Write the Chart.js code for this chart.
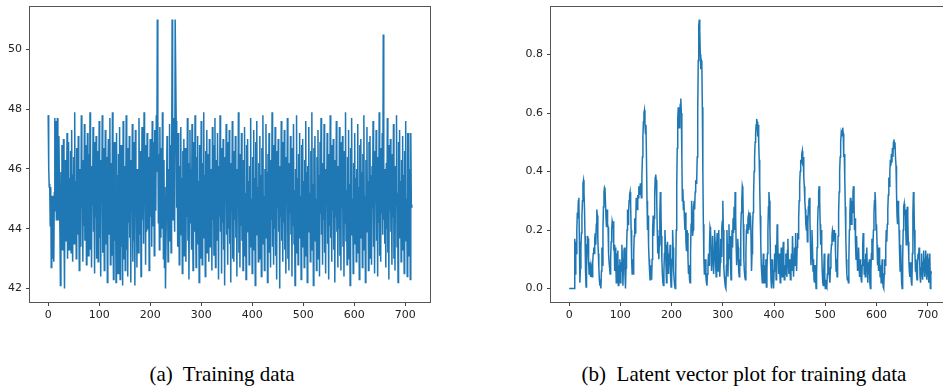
<!DOCTYPE html>
<html lang="en">
<head>
<meta charset="utf-8" />
<title>Training data / Latent vector plot</title>
<script src="https://cdn.jsdelivr.net/npm/chart.js"></script>
<style>
    html, body { margin: 0; padding: 0; background: #fff; width: 943px; height: 388px; overflow: hidden; }
    body { position: relative; }
    canvas { position: absolute; top: 0; }
    #trainingChart { left: 0; }
    #latentChart { left: 520px; }
    .caption {
        position: absolute;
        top: 362px;
        transform: translateX(-50%);
        font-family: "Liberation Serif", "Times New Roman", serif;
        font-size: 21px;
        line-height: 24px;
        color: #000;
        white-space: pre;
    }
</style>
</head>
<body>
<canvas id="trainingChart" width="440" height="330"></canvas>
<canvas id="latentChart" width="430" height="330"></canvas>
<div class="caption" style="left:222px">(a)  Training data</div>
<div class="caption" style="left:744px">(b)  Latent vector plot for training data</div>

<script>
// (a) Training data - one value per time step
var trainingValues = [
    47.8,46.1,45.4,45.5,44.1,45.4,42.7,44.3,45.1,43.0,44.9,42.9,45.2,47.7,44.6,47.6,44.3,45.0,47.7,46.2,
    44.3,47.1,45.5,43.9,42.1,45.9,44.4,46.8,43.3,45.2,47.0,44.1,42.0,45.8,46.3,43.6,44.9,47.2,43.0,45.6,
    46.9,43.3,45.7,44.0,46.6,43.2,47.3,44.6,42.9,45.8,46.4,43.5,47.9,44.2,45.6,43.0,46.7,45.1,43.8,47.1,
    44.5,42.6,46.0,45.2,43.4,47.8,44.7,45.9,42.9,46.3,44.1,47.5,43.6,45.0,46.8,42.8,44.9,47.2,45.4,43.1,
    46.5,44.0,47.9,43.3,45.7,42.7,46.1,44.8,47.4,43.9,45.3,42.5,46.9,44.4,47.1,43.0,45.8,46.6,42.9,44.7,
    47.6,43.7,45.5,42.4,46.3,44.9,47.8,43.2,45.1,46.7,42.6,44.3,47.3,45.0,43.5,46.4,42.2,45.9,47.0,43.8,
    45.2,47.7,42.8,44.6,46.2,43.1,47.9,44.4,42.3,45.7,46.9,43.6,45.3,42.2,47.2,44.0,45.8,42.5,46.5,43.9,
    47.4,42.3,45.0,46.8,43.4,44.7,42.1,47.6,45.5,43.0,46.1,42.6,44.8,47.8,43.3,45.9,42.4,46.7,44.2,47.1,
    43.7,45.4,42.2,46.3,44.6,47.5,42.9,45.1,43.6,46.9,42.1,47.3,44.5,45.8,42.7,46.0,44.9,43.2,47.7,45.3,
    43.8,46.6,42.4,45.0,47.4,44.3,46.1,43.5,47.9,44.8,45.6,42.8,46.8,43.9,47.2,45.2,44.0,46.4,42.6,45.7,
    47.0,44.4,46.2,43.4,47.6,45.5,44.1,46.9,43.1,47.3,45.0,44.6,47.8,45.9,51.0,47.7,44.2,46.5,43.3,47.4,
    45.1,43.7,46.7,44.0,47.9,45.6,43.0,46.3,42.7,45.4,42.0,42.0,44.9,47.1,45.8,42.9,46.0,43.6,47.5,44.5,
    46.8,43.2,45.2,51.0,46.9,44.3,47.7,45.0,43.9,51.0,51.0,47.6,44.7,46.4,43.4,47.2,45.5,42.8,46.1,44.1,
    47.4,43.8,45.7,42.5,46.6,44.8,47.0,43.1,45.3,46.7,42.9,45.9,44.4,47.7,43.6,46.2,42.3,45.0,47.3,44.2,
    46.0,43.3,47.5,45.4,42.6,46.9,44.6,43.9,47.8,45.1,42.7,46.4,44.0,47.1,43.5,45.6,42.2,46.8,44.9,43.0,
    47.6,45.3,42.8,46.2,44.5,47.9,43.7,45.8,42.4,46.6,44.1,47.3,43.2,45.0,46.5,42.9,47.0,44.7,43.4,46.0,
    45.5,42.6,47.4,44.3,46.8,43.1,45.9,47.7,42.7,44.8,46.3,43.6,47.2,45.2,42.3,46.1,44.4,47.8,43.9,45.6,
    42.5,46.7,44.2,47.0,43.3,45.4,42.1,46.4,44.9,47.5,43.8,45.1,42.8,46.9,44.0,47.3,43.5,45.7,42.2,46.2,
    44.6,47.6,43.0,45.3,42.9,46.6,44.3,47.1,43.7,45.8,42.4,46.0,44.8,47.9,43.2,45.5,42.7,46.5,44.1,47.2,
    43.6,45.9,42.6,46.3,44.7,47.4,43.1,45.2,42.3,46.8,44.4,47.0,43.9,45.6,42.8,46.1,44.0,47.7,43.4,45.0,
    42.5,46.4,44.9,47.3,43.3,45.7,42.1,46.9,44.2,47.6,43.8,45.4,42.9,46.2,44.6,47.1,43.0,45.8,42.4,46.7,
    44.5,47.8,43.5,45.1,42.6,46.0,44.1,47.5,43.7,45.9,42.2,46.5,44.8,47.2,43.2,45.3,42.7,46.3,44.3,47.9,
    43.4,45.6,42.8,46.8,44.0,47.4,43.1,45.0,42.3,46.6,44.7,47.0,43.9,45.5,42.0,46.1,44.4,47.6,43.6,45.2,
    42.9,46.9,44.2,47.3,43.3,45.8,42.5,46.4,44.9,47.7,43.0,45.4,42.6,46.2,44.5,47.1,43.8,45.9,42.4,46.7,
    44.1,47.5,43.5,45.3,42.1,46.0,44.6,47.8,43.2,45.7,42.8,46.5,44.3,47.2,43.7,45.1,42.3,46.8,44.8,47.0,
    43.4,45.6,42.7,46.3,44.0,47.6,43.1,45.9,42.2,46.1,44.7,47.4,43.9,45.2,42.9,46.6,44.4,47.9,43.3,45.5,
    42.1,46.7,44.9,47.1,43.6,45.0,42.6,46.4,44.2,47.3,43.0,45.8,42.4,46.9,44.5,47.7,43.8,45.3,42.8,46.2,
    44.3,47.5,43.2,45.7,42.5,46.0,44.8,47.2,43.5,45.4,42.3,46.5,44.1,47.8,43.7,45.1,42.9,46.8,44.6,47.0,
    43.3,45.9,42.2,46.3,44.4,47.6,43.9,45.6,42.7,46.1,44.0,47.4,43.1,45.2,42.6,46.9,44.7,47.1,43.4,45.8,
    42.4,46.6,44.2,47.9,43.6,45.3,42.8,46.4,44.9,47.3,43.0,45.5,42.1,46.7,44.5,47.7,43.8,45.0,42.5,46.2,
    44.3,47.2,43.5,45.7,42.9,46.0,44.8,47.5,43.2,45.4,42.3,46.8,44.0,47.0,43.7,45.9,42.7,46.5,44.6,47.8,
    43.3,45.1,42.2,46.3,44.1,47.4,43.9,45.6,42.6,46.9,44.4,47.1,43.0,45.8,42.8,46.1,44.7,47.6,43.4,45.2,
    42.5,46.6,44.9,47.3,43.6,45.5,42.4,46.4,44.2,47.9,43.1,45.0,42.9,46.7,44.5,47.2,43.8,50.5,44.3,46.0,
    43.5,45.9,42.7,46.2,44.0,47.7,43.2,45.3,42.3,46.8,44.6,47.0,43.9,45.4,42.8,46.5,44.4,47.5,43.0,45.7,
    42.6,46.1,44.8,47.8,43.4,45.2,42.2,46.9,44.1,47.3,43.7,45.6,42.9,46.3,44.7,47.1,43.3,45.8,42.5,46.6,
    44.2,47.6,43.6,45.0,42.4,47.2,44.9,47.2,43.1,46.0,42.3,47.2,44.8,44.7
];
var trainingXTicks = [0, 100, 200, 300, 400, 500, 600, 700];
var trainingYTicks = [42, 44, 46, 48, 50];

// (b) Latent vector for the same time steps
var latentValues = [
    0,0,0,0,0,0,0,0,0,0,0,0.17,0.05,0.16,0.12,0.2,0.26,0.24,0.30,0.31,0.16,0.02,
    0.07,0.14,0.19,0.25,0.3,0.36,0.37,0.33,0.27,0.18,0.06,0.005,0.07,0.15,0.18,0.17,0.09,0.05,0.09,0.06,0.04,0.08,0.07,0.04,
    0.09,0.12,0.14,0.12,0.17,0.19,0.15,0.22,0.27,0.25,0.17,0.12,0.07,0.03,0.01,0.02,0.0,
    0.06,0.14,0.08,0.2,0.28,0.33,0.345,0.34,0.29,0.24,0.21,0.27,0.22,0.21,0.12,0.09,0.07,0.05,
    0.1,0.16,0.2,0.23,0.22,0.23,0.13,0.15,0.06,0.14,0.09,0.02,0.12,0.07,0.13,0.01,0.08,0.05,0.1,0.02,
    0.09,0.06,0.15,0.1,0.01,0.08,0.13,0.14,0.05,0.0,0.07,0.12,0.2,0.27,0.22,0.26,0.3,0.32,0.33,
    0.29,0.2,0.1,0.05,0.1,0.05,0.12,0.18,0.24,0.19,0.23,0.31,0.3,0.27,0.32,0.31,0.35,0.34,0.32,0.36,
    0.33,0.31,0.38,0.45,0.52,0.57,0.6,0.61,0.56,0.53,0.56,0.44,0.3,0.2,0.25,0.15,0.1,0.06,0.03,0.08,0.05,
    0.03,0.1,0.2,0.25,0.18,0.24,0.32,0.38,0.39,0.37,0.3,0.2,0.12,0.18,0.1,0.15,0.25,0.33,0.3,0.18,0.1,0.05,0.02,0.01,0.06,
    0.12,0.2,0.15,0.08,0.02,0.1,0.16,0.11,0.05,0.12,0.08,0.15,0.04,0.005,0.02,0.1,0.2,0.14,0.06,0.03,0.01,0.0,0.05,0.2,0.35,
    0.48,0.58,0.62,0.6,0.55,0.61,0.63,0.65,0.6,0.45,0.3,0.34,0.27,0.3,0.24,
    0.2,0.26,0.16,0.13,0.2,0.19,0.1,0.05,0.08,0.03,0.02,0.12,0.22,0.3,0.26,
    0.18,0.2,0.28,0.3,0.27,0.33,0.37,0.36,0.37,0.45,0.6,0.78,0.9,
    0.92,0.88,0.8,0.75,0.78,0.77,0.62,0.4,0.22,0.1,0.05,0.08,0.1,0.04,0.02,0.01,0.05,0.08,0.12,0.08,0.15,0.21,
    0.2,0.14,0.06,0.1,0.18,0.13,0.05,0.11,0.2,0.16,0.08,0.04,0.15,0.19,0.14,0.06,0.2,0.12,0.04,0.09,0.17,0.11,0.21,0.23,0.3,0.2,0.07,0.04,0.02,0.005,0.0,
    0.08,0.2,0.12,0.04,0.15,0.22,0.1,0.18,0.08,0.03,0.12,0.2,0.14,0.24,0.19,0.28,0.2,0.33,0.25,0.15,0.08,0.12,0.17,0.14,0.06,0.04,0.1,0.08,0.2,0.26,0.3,0.35,0.34,0.22,
    0.1,0.06,0.04,0.03,0.12,0.2,0.22,0.19,0.24,0.25,0.2,0.26,0.21,0.25,0.18,0.06,0.12,0.2,0.26,0.32,0.4,0.45,0.5,0.53,0.56,0.58,0.57,0.52,
    0.56,0.5,0.44,0.35,0.25,0.16,0.08,0.05,0.02,0.06,0.12,0.05,0.02,0.08,0.04,0.1,0.005,0.06,0.12,0.2,0.28,0.33,0.3,0.2,0.1,0.03,0.0,0.04,0.1,0.05,0.0,0.06,
    0.12,0.08,0.15,0.03,0.1,0.22,0.18,0.1,0.05,0.12,0.07,0.02,0.09,0.14,0.1,0.04,0.12,0.16,0.09,0.03,
    0.08,0.05,0.12,0.07,0.04,0.13,0.17,0.09,0.05,0.1,0.06,0.03,0.08,0.12,0.06,0.18,0.11,0.04,0.09,0.14,
    0.08,0.19,0.12,0.06,0.14,0.19,0.17,0.24,0.3,0.36,0.4,0.44,0.43,0.46,0.47,0.42,0.45,0.38,
    0.35,0.3,0.27,0.22,0.2,0.25,0.16,0.22,0.28,0.3,0.31,0.24,0.15,0.08,0.12,0.2,0.14,0.06,0.1,0.03,
    0.02,0.08,0.04,0.0,0.05,0.14,0.22,0.28,0.33,0.35,0.3,0.22,
    0.15,0.2,0.13,0.06,0.02,0.01,0.06,0.12,0.04,0.0,0.03,0.01,0.005,0.05,0.1,0.12,0.08,0.04,0.02,0.07,
    0.12,0.15,0.18,0.2,0.19,0.16,0.2,0.18,0.19,0.12,0.06,0.1,0.04,0.1,0.18,0.26,0.33,0.4,0.45,0.5,
    0.53,0.52,0.54,0.55,
    0.53,0.45,0.46,0.38,0.28,0.18,0.1,0.05,0.03,0.04,0.02,0.1,0.2,0.26,0.31,0.28,0.22,0.3,0.26,0.33,
    0.35,0.3,0.2,0.24,0.15,0.1,0.18,0.12,0.06,0.09,0.14,0.07,0.04,0.1,0.06,0.03,0.02,
    0.08,0.15,0.19,0.12,0.05,0.1,0.04,0.12,0.08,0.14,0.06,0.02,0.09,0.05,0.1,0.02,0.0,0.06,0.12,0.17,
    0.1,0.15,0.2,0.26,0.3,0.33,0.3,0.2,
    0.22,0.15,0.08,0.12,0.06,0.14,0.1,0.04,0.08,0.02,0.06,0.1,0.03,0.005,0.0,0.05,0.1,0.08,0.14,0.2,
    0.16,0.22,0.27,0.32,0.38,0.35,0.4,0.44,0.42,0.46,0.43,0.48,0.45,0.5,0.51,0.48,0.5,
    0.45,0.42,0.33,0.25,0.22,0.3,0.26,0.2,0.12,0.06,0.15,0.08,0.02,0.0,0.1,0.2,0.28,0.29,0.25,0.27,
    0.2,0.15,0.22,0.28,0.24,0.16,0.1,0.06,0.04,0.09,0.05,0.02,0.01,0.12,0.26,0.33,
    0.3,0.2,0.12,0.06,0.1,0.05,0.03,0.08,0.12,0.1,0.14,0.11,0.04,0.02,0.07,0.12,0.06,0.03,0.09,0.13,
    0.08,0.04,0.1,0.13,0.06,0.03,0.11,0.12,0.05,0.02,0.1,0.12,0.0,0.06,0.05,0.05
];
var latentXTicks = [0, 100, 200, 300, 400, 500, 600, 700];
var latentYTicks = [0.0, 0.2, 0.4, 0.6, 0.8];

// matplotlib-like box around the plot area
var framePlugin = {
    id: 'frame',
    afterDraw: function (chart) {
        var a = chart.chartArea, ctx = chart.ctx;
        ctx.save();
        ctx.strokeStyle = '#555';
        ctx.lineWidth = 1;
        ctx.strokeRect(Math.round(a.left) - 0.5, Math.round(a.top) + 0.5,
            Math.round(a.right - a.left) + 1, Math.round(a.bottom - a.top));
        ctx.restore();
    }
};

function margin(lo, hi) {
    var m = (hi - lo) * 0.05;
    return [lo - m, hi + m];
}

function makeChart(id, values, xTicks, yTicks, yLabel, yWidth, pad) {
    var points = values.map(function (v, i) { return { x: i, y: v }; });
    var xr = margin(0, values.length - 1);
    var yr = margin(Math.min.apply(null, values), Math.max.apply(null, values));
    var tickFont = { family: 'DejaVu Sans', size: 11 };
    var gridOpts = { drawOnChartArea: false, drawTicks: true, tickLength: 4, color: '#444' };

    return new Chart(document.getElementById(id).getContext('2d'), {
        type: 'line',
        data: {
            datasets: [{
                data: points,
                borderColor: '#1f77b4',
                borderWidth: 1.5,
                pointRadius: 0,
                tension: 0,
                fill: false
            }]
        },
        options: {
            responsive: false,
            animation: false,
            layout: { padding: pad },
            plugins: { legend: { display: false }, tooltip: { enabled: false } },
            scales: {
                x: {
                    type: 'linear',
                    min: xr[0],
                    max: xr[1],
                    grid: gridOpts,
                    border: { display: false },
                    ticks: { font: tickFont, color: '#222', padding: 3, autoSkip: false, maxRotation: 0,
                        callback: function (v) { return String(v); } },
                    afterBuildTicks: function (s) { s.ticks = xTicks.map(function (v) { return { value: v }; }); },
                    afterFit: function (s) { s.height = 28; s.paddingLeft = 0; s.paddingRight = 0; }
                },
                y: {
                    type: 'linear',
                    min: yr[0],
                    max: yr[1],
                    grid: gridOpts,
                    border: { display: false },
                    ticks: { font: tickFont, color: '#222', padding: 4, autoSkip: false, callback: yLabel },
                    afterBuildTicks: function (s) { s.ticks = yTicks.map(function (v) { return { value: v }; }); },
                    afterFit: function (s) { s.width = yWidth; s.paddingTop = 0; s.paddingBottom = 0; }
                }
            }
        },
        plugins: [framePlugin]
    });
}

makeChart('trainingChart', trainingValues, trainingXTicks, trainingYTicks,
    function (v) { return String(v); }, 30, { left: 0, top: 6, right: 10, bottom: 0 });

makeChart('latentChart', latentValues, latentXTicks, latentYTicks,
    function (v) { return v.toFixed(1); }, 31, { left: 0, top: 6, right: 0, bottom: 0 });
</script>
</body>
</html>
